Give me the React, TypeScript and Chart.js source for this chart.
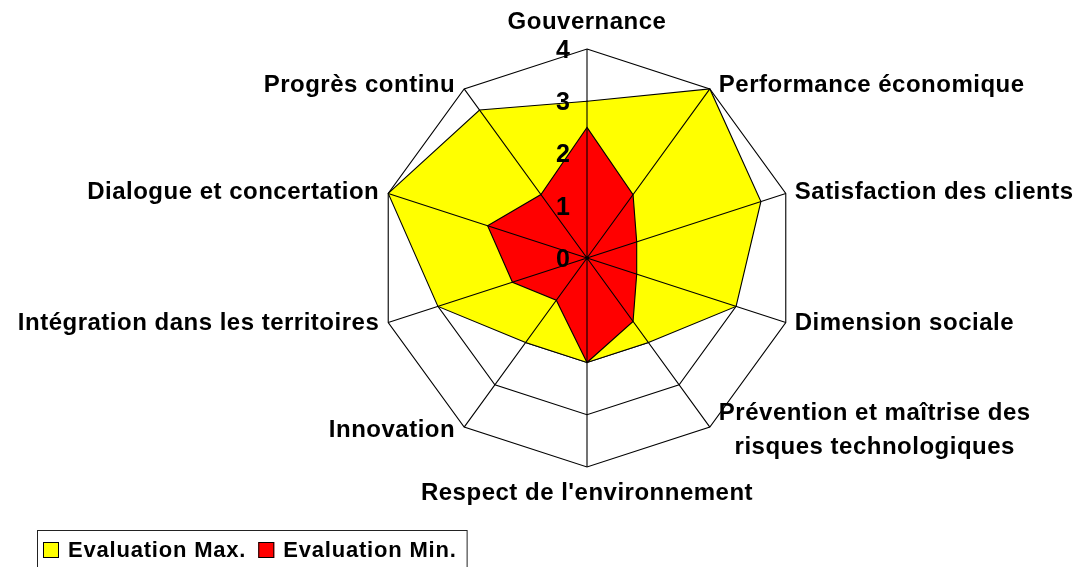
import React, { useEffect, useRef } from "react";
import { Chart, registerables } from "chart.js";

Chart.register(...registerables);

const categories: (string | string[])[] = [
  "Gouvernance",
  "Performance économique",
  "Satisfaction des clients",
  "Dimension sociale",
  ["Prévention et maîtrise des", "risques technologiques"],
  "Respect de l'environnement",
  "Innovation",
  "Intégration dans les territoires",
  "Dialogue et concertation",
  "Progrès continu",
];
const maxValues = [3, 4, 3.5, 3, 2, 2, 2, 3, 4, 3.5];
const minValues = [2.5, 1.5, 1, 1, 1.5, 2, 1, 1.5, 2, 1.5];
const seriesNames = ["Evaluation Max.", "Evaluation Min."];
const seriesColors = ["#FFFF00", "#FF0000"];
const tickMin = 0;
const tickMax = 4;
const tickStep = 1;

const FONT = '"Liberation Sans", Arial, Helvetica, sans-serif';

const overlayPlugin = {
  id: "overlay",
  afterDatasetsDraw(chart: any) {
    const s = chart.scales.r;
    const ctx: CanvasRenderingContext2D = chart.ctx;
    const labels = chart.data.labels as (string | string[])[];
    const n = labels.length;
    const R = s.drawingArea;
    ctx.save();
    // spokes over the fills
    ctx.strokeStyle = "#000";
    ctx.lineWidth = 1.1;
    ctx.beginPath();
    for (let i = 0; i < n; i++) {
      const p = s.getPointPosition(i, R);
      ctx.moveTo(s.xCenter, s.yCenter);
      ctx.lineTo(p.x, p.y);
    }
    ctx.stroke();

    // tick labels
    ctx.fillStyle = "#000";
    ctx.font = `bold 25px ${FONT}`;
    ctx.textAlign = "right";
    ctx.textBaseline = "middle";
    s.ticks.forEach((t: any) => {
      const d = s.getDistanceFromCenterForValue(t.value);
      ctx.fillText(String(t.value), s.xCenter - 17, s.yCenter - d + 2);
    });

    // point labels
    ctx.font = `bold 24px ${FONT}`;
    (ctx as any).letterSpacing = "0.5px";
    const lh = 34;
    for (let i = 0; i < n; i++) {
      const lab = labels[i];
      const lines = Array.isArray(lab) ? lab : [lab];
      const v = s.getPointPosition(i, R);
      const angleDeg = (i * 360) / n;
      const a = (angleDeg * Math.PI) / 180;
      const widths = lines.map((l) => ctx.measureText(l).width);
      const maxW = Math.max(...widths);
      let cx: number;
      let yMid: number;
      if (angleDeg === 0) {
        cx = v.x;
        yMid = v.y - 27;
      } else if (angleDeg === 180) {
        cx = v.x;
        yMid = v.y + 26;
      } else if (angleDeg < 180) {
        cx = v.x + 9 + maxW / 2;
        yMid = v.y - 4 * Math.cos(a);
      } else {
        cx = v.x - 9 - maxW / 2;
        yMid = v.y - 4 * Math.cos(a);
      }
      ctx.textAlign = "center";
      ctx.textBaseline = "middle";
      const y0 = yMid - ((lines.length - 1) * lh) / 2;
      lines.forEach((l, k) => ctx.fillText(l, cx, y0 + k * lh));
    }
    ctx.restore();
  },
  afterDraw(chart: any) {
    const ctx: CanvasRenderingContext2D = chart.ctx;
    ctx.save();
    ctx.font = `bold 22px ${FONT}`;
    (ctx as any).letterSpacing = "0.8px";
    ctx.textAlign = "left";
    ctx.textBaseline = "middle";
    const boxTop = 522;
    const sqY = 534;
    let x = 35;
    chart.data.datasets.forEach((ds: any) => {
      ctx.fillStyle = ds.backgroundColor;
      ctx.fillRect(x, sqY, 16, 16);
      ctx.strokeStyle = "#000";
      ctx.lineWidth = 1;
      ctx.strokeRect(x + 0.5, sqY + 0.5, 15, 15);
      x += 25;
      ctx.fillStyle = "#000";
      ctx.fillText(ds.label, x, sqY + 9);
      x += ctx.measureText(ds.label).width + 12;
    });
    const right = x - 12 + 10;
    ctx.strokeStyle = "#222";
    ctx.lineWidth = 1;
    ctx.strokeRect(29.5, boxTop + 0.5, right - 29, 60);
    ctx.restore();
  },
};

export default function App() {
  const ref = useRef<HTMLCanvasElement | null>(null);
  useEffect(() => {
    if (!ref.current) return;
    const chart = new Chart(ref.current, {
      type: "radar",
      data: {
        labels: categories as any,
        datasets: [
          {
            label: seriesNames[0],
            data: maxValues,
            backgroundColor: seriesColors[0],
            borderColor: "#000",
            borderWidth: 1.1,
            fill: true,
            pointRadius: 0,
            order: 2,
          },
          {
            label: seriesNames[1],
            data: minValues,
            backgroundColor: seriesColors[1],
            borderColor: "#000",
            borderWidth: 1.1,
            fill: true,
            pointRadius: 0,
            order: 1,
          },
        ],
      },
      options: {
        responsive: true,
        maintainAspectRatio: false,
        animation: false,
        layout: { padding: { left: 370, right: 278, top: 41, bottom: 100 } },
        elements: { line: { tension: 0 } },
        plugins: {
          legend: { display: false },
          tooltip: { enabled: false },
        },
        scales: {
          r: {
            min: tickMin,
            max: tickMax,
            beginAtZero: true,
            ticks: { display: false, stepSize: tickStep },
            pointLabels: { display: false },
            grid: { color: "#000", lineWidth: 1.1 },
            angleLines: { display: false },
          },
        },
      },
      plugins: [overlayPlugin],
    });
    return () => chart.destroy();
  }, []);
  return (
    <div style={{ position: "relative", width: "100%", height: 559 }}>
      <canvas ref={ref} />
    </div>
  );
}
